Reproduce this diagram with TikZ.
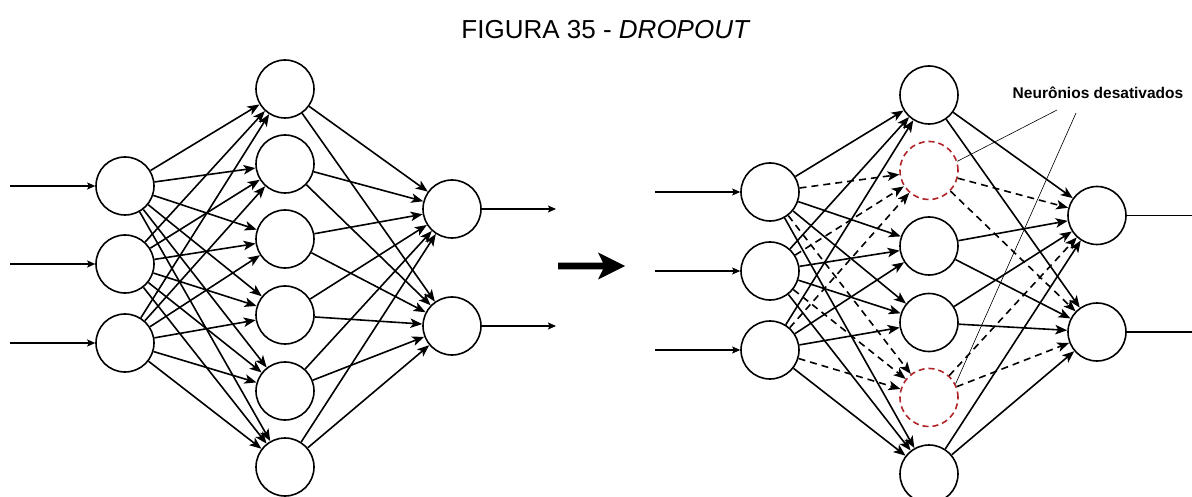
\documentclass[tikz,border=0pt]{standalone}
\usepackage{fontspec}
\setmainfont{Liberation Sans}
\usetikzlibrary{arrows.meta}
\definecolor{dropred}{RGB}{176,36,40}

\begin{document}
\begin{tikzpicture}[x=1pt,y=-1pt,
  neuron/.style={circle,draw,line width=1.6pt,minimum size=58pt,inner sep=0pt,fill=white},
  dropped/.style={neuron,draw=dropred,dash pattern=on 6pt off 4pt},
  link/.style={line width=1.6pt,-{Stealth[length=12pt,width=9.5pt,inset=3pt]}},
  droplink/.style={link,dash pattern=on 7pt off 5pt},
  feed/.style={line width=1.1pt,-{Stealth[length=8pt,width=7pt,inset=1.5pt]}},
  outline/.style={line width=1.1pt},
  leader/.style={line width=0.6pt}]
\useasboundingbox (0,0) rectangle (1192,497);

% title
\node (title) at (606,30) {\fontsize{26}{30}\selectfont FIGURA 35 - \textit{DROPOUT}};

% ---- full network ----
\foreach \n/\y in {1/186,2/264,3/343}
  \node[neuron] (i\n) at (125,\y) {};
\foreach \n/\y in {1/89,2/164,3/239,4/315,5/391,6/467}
  \node[neuron] (h\n) at (285,\y) {};
\node[neuron] (o1) at (452,209) {};
\node[neuron] (o2) at (452,326) {};

\foreach \n/\y in {1/186,2/264,3/343}{
  \coordinate (fi\n) at (10,\y);
  \draw[feed] (fi\n) -- (i\n);
}
\coordinate (fo1) at (556,209);
\coordinate (fo2) at (556,326);
\draw[feed] (o1) -- (fo1);
\draw[feed] (o2) -- (fo2);

\foreach \i in {1,2,3}
  \foreach \h in {1,...,6}
    \draw[link] (i\i) -- (h\h);
\foreach \h in {1,...,6}
  \foreach \o in {1,2}
    \draw[link] (h\h) -- (o\o);

% ---- transition arrow ----
\fill (558,262.7) -- (603,262.7) -- (598,252.5) -- (625,266) -- (598,279.5)
  -- (603,269.3) -- (558,269.3) -- cycle;

% ---- network with dropout ----
\foreach \n/\y in {1/192,2/271,3/350}
  \node[neuron] (I\n) at (770,\y) {};
\foreach \n/\y/\s in {1/95/neuron,2/170.5/dropped,3/246/neuron,4/322.5/neuron,5/397.5/dropped,6/474/neuron}
  \node[\s] (H\n) at (929,\y) {};
\node[neuron] (O1) at (1097,215.5) {};
\node[neuron] (O2) at (1097,332) {};

\foreach \n/\y in {1/192,2/271,3/350}{
  \coordinate (FI\n) at (655,\y);
  \draw[feed] (FI\n) -- (I\n);
}
\coordinate (FO1) at (1192,215.5);
\coordinate (FO2) at (1192,332);
\draw[outline] (O1) -- (FO1);
\draw[outline] (O2) -- (FO2);

\foreach \h/\s in {1/link,2/droplink,3/link,4/link,5/droplink,6/link}{
  \foreach \i in {1,2,3}
    \draw[\s] (I\i) -- (H\h);
  \foreach \o in {1,2}
    \draw[\s] (H\h) -- (O\o);
}

% label for the switched-off neurons
\node[font=\bfseries\fontsize{15.5}{18}\selectfont] (lbl) at (1098,93) {Neurônios desativados};
\coordinate (lead1) at (1057,110);
\coordinate (lead2) at (1076,113);
\draw[leader] (lead1) -- (H2.18);
\draw[leader] (lead2) -- (H5.27);
\end{tikzpicture}
\end{document}
